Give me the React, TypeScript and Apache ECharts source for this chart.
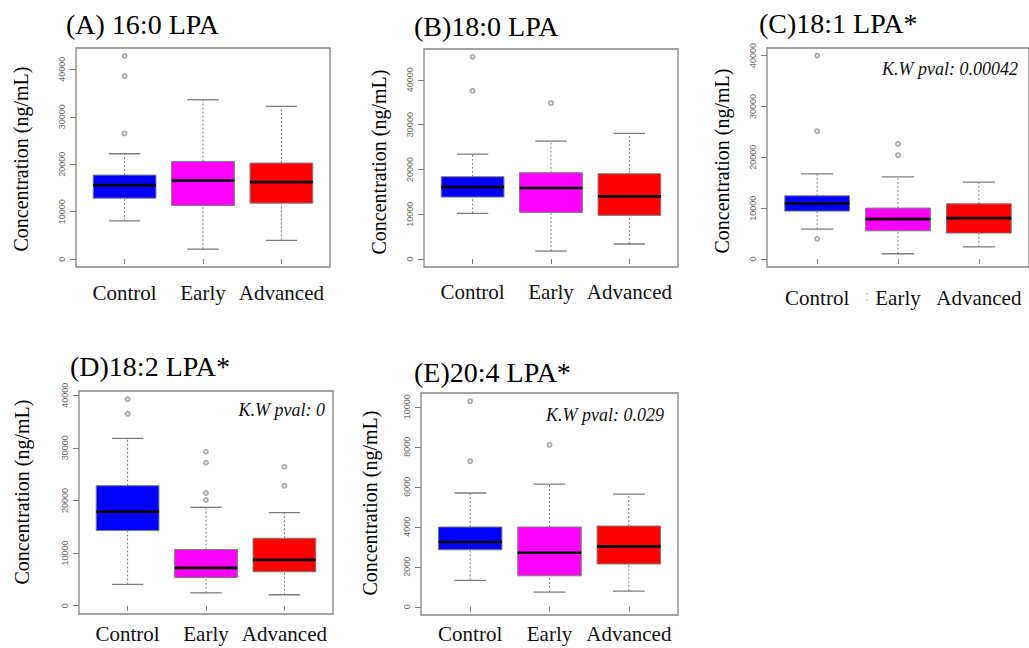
import React, { useEffect, useRef } from "react";
import * as echarts from "echarts";

// ---- data ----
const categories = ["Control", "Early", "Advanced"];
const catPositions = [1, 2, 3];
const boxColours = ["#0000FF", "#FF00FF", "#FF0000"];

// each box: [lower whisker, Q1, median, Q3, upper whisker]
const lpa160Control = [8080, 12860, 15610, 17720, 22210];
const lpa160Early = [2110, 11320, 16590, 20600, 33600];
const lpa160Advanced = [3940, 11810, 16240, 20250, 32200];
const lpa160Outliers = [[1, 42810], [1, 38590], [1, 26500]];

const lpa180Control = [10190, 13830, 16060, 18360, 23420];
const lpa180Early = [1780, 10410, 15840, 19260, 26320];
const lpa180Advanced = [3350, 9740, 13980, 19030, 28030];
const lpa180Outliers = [[1, 45130], [1, 37550], [2, 34800]];

const lpa181Control = [5890, 9430, 10930, 12440, 16760];
const lpa181Early = [1050, 5560, 7860, 10020, 16170];
const lpa181Advanced = [2420, 5110, 8050, 10870, 15120];
const lpa181Outliers = [[1, 40000], [1, 25140], [1, 3990], [2, 22650], [2, 20430]];

const lpa182Control = [4040, 14280, 17880, 22810, 31790];
const lpa182Early = [2460, 5370, 7200, 10680, 18700];
const lpa182Advanced = [2090, 6450, 8720, 12830, 17690];
const lpa182Outliers = [
  [1, 39240], [1, 36460],
  [2, 29260], [2, 27170], [2, 21420], [2, 20090],
  [3, 26410], [3, 22810],
];

const lpa204Control = [1320, 2850, 3240, 3990, 5690];
const lpa204Early = [730, 1550, 2700, 3990, 6130];
const lpa204Advanced = [780, 2140, 3020, 4040, 5630];
const lpa204Outliers = [[1, 10280], [1, 7280], [2, 8100]];

const ticks40k = [0, 10000, 20000, 30000, 40000];
const ticks10k = [0, 2000, 4000, 6000, 8000, 10000];

const panelTitles = ["(A) 16:0 LPA", "(B)18:0 LPA", "(C)18:1 LPA*", "(D)18:2 LPA*", "(E)20:4 LPA*"];
const pvalTexts = [null, null, "K.W pval: 0.00042", "K.W pval: 0", "K.W pval: 0.029"];
const yTitle = "Concentration (ng/mL)";

const panelBoxes = [
  [lpa160Control, lpa160Early, lpa160Advanced],
  [lpa180Control, lpa180Early, lpa180Advanced],
  [lpa181Control, lpa181Early, lpa181Advanced],
  [lpa182Control, lpa182Early, lpa182Advanced],
  [lpa204Control, lpa204Early, lpa204Advanced],
];
const panelOutliers = [lpa160Outliers, lpa180Outliers, lpa181Outliers, lpa182Outliers, lpa204Outliers];
const panelTicks = [ticks40k, ticks40k, ticks40k, ticks40k, ticks10k];

// ---- layout ----
const layout = [
  { left: 76, top: 48, width: 254, height: 219, ymin: -1650, ymax: 44500, xm: 15, tx: 66, ty: 24, yx: 21, yy: 159, px: 0, py: 0 },
  { left: 424, top: 49, width: 254, height: 218, ymin: -1780, ymax: 46880, xm: 14, tx: 414, ty: 26, yx: 379, yy: 162, px: 0, py: 0 },
  { left: 767, top: 48, width: 262, height: 219, ymin: -1550, ymax: 41480, xm: 20, tx: 759, ty: 23, yx: 722, yy: 161, px: 1018, py: 69 },
  { left: 79, top: 391, width: 254, height: 223, ymin: -1570, ymax: 40800, xm: 9, tx: 70, ty: 366, yx: 22, yy: 492, px: 325, py: 410 },
  { left: 421, top: 393, width: 257, height: 222, ymin: -410, ymax: 10690, xm: 8, tx: 414, ty: 372, yx: 370, yy: 503, px: 664, py: 415 },
];

const SERIF = "Liberation Serif";
const SANS = "Liberation Sans";
const GRAY = "#7c7c7c";

function renderBox(params: any, api: any) {
  const x = api.value(0);
  const lo = api.value(1), q1 = api.value(2), med = api.value(3), q3 = api.value(4), hi = api.value(5);
  const c = (v: number) => api.coord([x, v]);
  const bw = api.size([0.8, 0])[0];
  const pLo = c(lo), pQ1 = c(q1), pMed = c(med), pQ3 = c(q3), pHi = c(hi);
  const cx = pMed[0];
  const dashStyle = { stroke: GRAY, lineWidth: 1, lineDash: [2, 2] };
  const capStyle = { stroke: GRAY, lineWidth: 1.3 };
  return {
    type: "group",
    children: [
      { type: "line", shape: { x1: cx, y1: pQ3[1], x2: cx, y2: pHi[1] }, style: dashStyle },
      { type: "line", shape: { x1: cx, y1: pLo[1], x2: cx, y2: pQ1[1] }, style: dashStyle },
      { type: "line", shape: { x1: cx - bw / 4, y1: pHi[1], x2: cx + bw / 4, y2: pHi[1] }, style: capStyle },
      { type: "line", shape: { x1: cx - bw / 4, y1: pLo[1], x2: cx + bw / 4, y2: pLo[1] }, style: capStyle },
      {
        type: "rect",
        shape: { x: cx - bw / 2, y: pQ3[1], width: bw, height: pQ1[1] - pQ3[1] },
        style: { fill: boxColours[params.dataIndex], stroke: GRAY, lineWidth: 1 },
      },
      { type: "line", shape: { x1: cx - bw / 2, y1: pMed[1], x2: cx + bw / 2, y2: pMed[1] }, style: { stroke: "#000", lineWidth: 2.6 } },
    ],
  };
}

export default function App() {
  const ref = useRef<HTMLDivElement>(null);
  useEffect(() => {
    document.body.style.margin = "0";
    if (!ref.current) return;
    const chart = echarts.init(ref.current, null, { renderer: "svg" });

    const grids = layout.map((p) => ({
      left: p.left, top: p.top, width: p.width, height: p.height,
      show: true, borderColor: "#858585", borderWidth: 1.3, backgroundColor: "transparent",
      containLabel: false, outerBoundsMode: "none",
    }));
    const xAxes = layout.map((p, i) => ({
      gridIndex: i, type: "value", min: 0.38, max: 3.62,
      axisLine: { show: false }, splitLine: { show: false },
      axisTick: { show: true, inside: false, length: 5, customValues: catPositions, lineStyle: { color: GRAY, width: 1 } },
      axisLabel: {
        customValues: catPositions, margin: p.xm,
        formatter: (v: number) => categories[Math.round(v) - 1],
        fontFamily: SERIF, fontSize: 21, color: "#111",
      },
    }));
    const yAxes = layout.map((p, i) => ({
      gridIndex: i, type: "value", min: p.ymin, max: p.ymax,
      axisLine: { show: false }, splitLine: { show: false },
      axisTick: { show: true, inside: false, length: 6, customValues: panelTicks[i], lineStyle: { color: GRAY, width: 1 } },
      axisLabel: {
        customValues: panelTicks[i], rotate: 90, margin: 10,
        formatter: (v: number) => String(v),
        fontFamily: SANS, fontSize: 9, color: "#6b6b6b",
      },
    }));
    const series: any[] = [];
    layout.forEach((p, i) => {
      series.push({
        type: "custom", xAxisIndex: i, yAxisIndex: i,
        data: panelBoxes[i].map((b, k) => [catPositions[k], ...b]),
        encode: { x: 0, y: [1, 2, 3, 4, 5] },
        renderItem: renderBox,
      });
      series.push({
        type: "scatter", xAxisIndex: i, yAxisIndex: i,
        data: panelOutliers[i],
        symbol: "emptyCircle", symbolSize: 4,
        itemStyle: { color: "#9a9a9a", borderColor: "#9a9a9a", borderWidth: 1.2 },
      });
    });
    const graphics: any[] = [];
    layout.forEach((p, i) => {
      graphics.push({
        type: "text", x: p.tx, y: p.ty,
        style: { text: panelTitles[i], fontFamily: SERIF, fontSize: 28, fill: "#000", textAlign: "left", textVerticalAlign: "middle" },
      });
      graphics.push({
        type: "text", x: p.yx, y: p.yy, rotation: Math.PI / 2,
        style: { text: yTitle, fontFamily: SERIF, fontSize: 20, fill: "#000", textAlign: "center", textVerticalAlign: "middle" },
      });
      if (pvalTexts[i]) {
        graphics.push({
          type: "text", x: p.px, y: p.py,
          style: { text: pvalTexts[i], fontFamily: SERIF, fontStyle: "italic", fontSize: 18, fill: "#111", textAlign: "right", textVerticalAlign: "middle" },
        });
      }
    });
    graphics.push({
      type: "text", x: 867, y: 296,
      style: { text: ":", fontFamily: SANS, fontSize: 14, fill: "#b0b0b0", textAlign: "center", textVerticalAlign: "middle" },
    });

    chart.setOption({
      animation: false,
      backgroundColor: "#ffffff",
      grid: grids,
      xAxis: xAxes,
      yAxis: yAxes,
      series,
      graphic: graphics,
    });
    return () => chart.dispose();
  }, []);
  return <div ref={ref} style={{ width: 1029, height: 648 }} />;
}
